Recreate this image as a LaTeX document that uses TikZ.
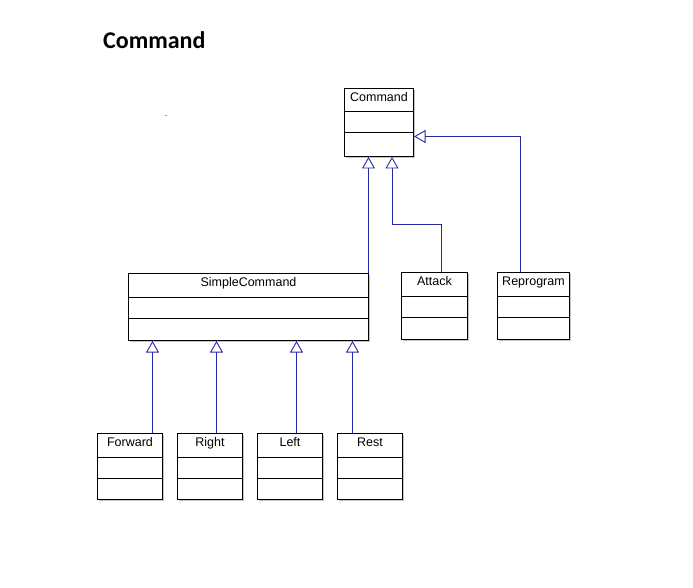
\documentclass[tikz,border=0pt]{standalone}
\usepackage{fontspec}
\setmainfont{Liberation Sans}
\newfontfamily\titlefont{Carlito}
\usetikzlibrary{arrows.meta,calc,shadows}
\definecolor{conn}{RGB}{40,40,165}
\begin{document}
\begin{tikzpicture}[x=1pt,y=-1pt,
  classbox/.style={draw=black, line width=1pt, fill=white, anchor=north west, inner sep=0pt,
    drop shadow={shadow xshift=1.5pt, shadow yshift=-1.5pt, opacity=0.5, fill=black!45}},
  lbl/.style={anchor=base, inner sep=0pt, font=\fontsize{12.5}{14}\selectfont},
  sepline/.style={line width=1pt, black},
  inh/.style={draw=conn, line width=0.9pt, -{Triangle[open, length=11.5pt, width=13pt, fill=white]}}
]
\useasboundingbox (0,0) rectangle (693,588);
% title
\node[anchor=base west, inner sep=0pt, font=\titlefont\bfseries\fontsize{24}{28}\selectfont] (title) at (103,49) {Command};
\node[inner sep=0pt, font=\fontsize{9}{10}\selectfont] (dot) at (166,116) {.};
% classes
\newcommand{\umlclass}[6]{% name, x, y, w, h, label
  \node[classbox, minimum width=#4, minimum height=#5] (#1) at (#2,#3) {};
  \draw[sepline] ($(#1.north west)+(0,24)$) -- ($(#1.north east)+(0,24)$);
  \draw[sepline] ($(#1.north west)+(0,45)$) -- ($(#1.north east)+(0,45)$);
  \node[lbl] (#1-l) at ($(#1.north)+(0,13.5)$) {#6};
}
\umlclass{cmd}{344}{88}{69}{68}{Command}
\umlclass{sc}{128}{273}{240}{67}{SimpleCommand}
\umlclass{att}{401}{272}{66}{67}{Attack}
\umlclass{rep}{497}{272}{72}{67}{Reprogram}
\umlclass{fwd}{97}{433}{65}{66}{Forward}
\umlclass{rgt}{177}{433}{65}{66}{Right}
\umlclass{lft}{257}{433}{65}{66}{Left}
\umlclass{rst}{337}{433}{65}{66}{Rest}
% connector start points
\coordinate (scA) at ($(sc.north east)+(-0.5,0)$);
\coordinate (attA) at ($(att.north west)+(40,0)$);
\coordinate (repA) at ($(rep.north west)+(23,0)$);
\coordinate (fwdA) at ($(fwd.north west)+(55.5,0)$);
\coordinate (rgtA) at ($(rgt.north west)+(39.5,0)$);
\coordinate (lftA) at ($(lft.north west)+(39.5,0)$);
\coordinate (rstA) at ($(rst.north west)+(15.5,0)$);
\coordinate (cmdB) at ($(cmd.south west)+(48,0)$);
\coordinate (cmdR) at ($(cmd.north east)+(0,48.5)$);
% connectors
\draw[inh] (scA) -- (scA |- cmd.south);
\draw[inh] (attA) -- ++(0,-48) -| (cmdB);
\draw[inh] (repA) |- (cmdR);
\draw[inh] (fwdA) -- (fwdA |- sc.south);
\draw[inh] (rgtA) -- (rgtA |- sc.south);
\draw[inh] (lftA) -- (lftA |- sc.south);
\draw[inh] (rstA) -- (rstA |- sc.south);
\end{tikzpicture}
\end{document}
